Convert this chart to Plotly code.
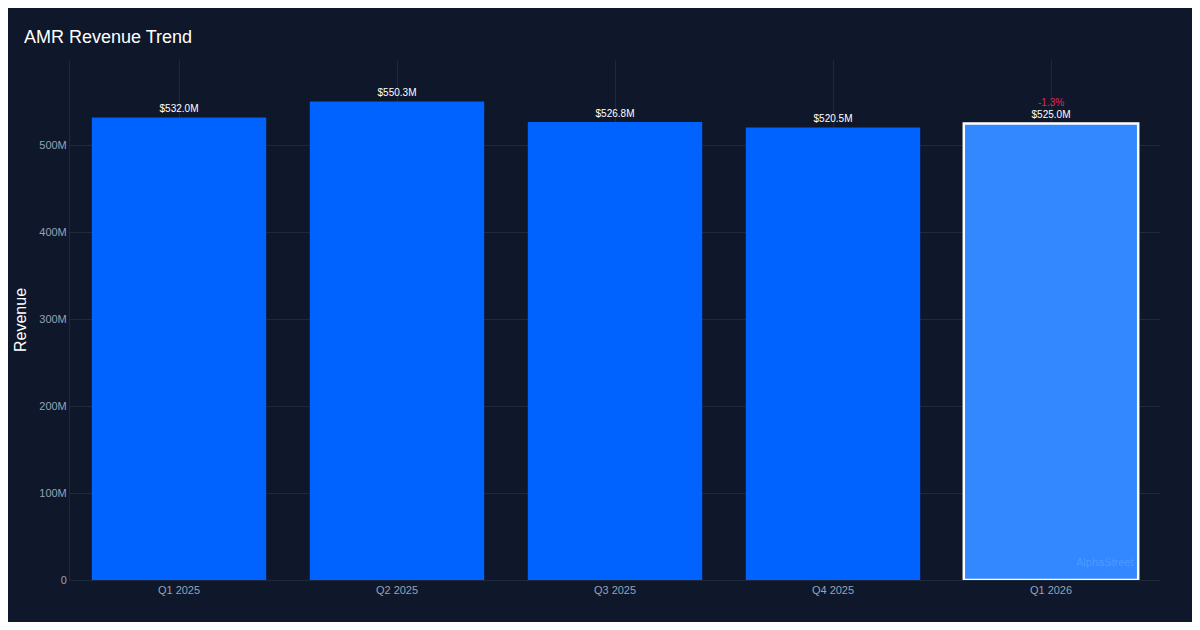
import plotly.graph_objects as go

quarters = ["Q1 2025", "Q2 2025", "Q3 2025", "Q4 2025", "Q1 2026"]
revenue = [532.0e6, 550.3e6, 526.8e6, 520.5e6, 525.0e6]
labels = ["$532.0M", "$550.3M", "$526.8M", "$520.5M", "$525.0M"]
change_label = "-1.3%"

colors = ["#0062ff"] * 4 + ["#3388ff"]
line_colors = ["rgba(0,0,0,0)"] * 4 + ["#ffffff"]
line_widths = [0, 0, 0, 0, 2.5]

fig = go.Figure(go.Bar(
    x=quarters, y=revenue, text=labels, textposition="outside",
    textfont=dict(color="#ffffff", size=10, family="Liberation Sans, Arial"),
    marker=dict(color=colors, line=dict(color=line_colors, width=line_widths)),
    width=0.8, cliponaxis=False,
))
fig.add_annotation(x=quarters[-1], y=revenue[-1], yshift=21, text=change_label,
                   showarrow=False, font=dict(color="#e0245e", size=10, family="Liberation Sans, Arial"))
fig.add_annotation(xref="paper", yref="paper", x=0.977, y=0.02, xanchor="right", yanchor="bottom",
                   text="AlphaStreet", showarrow=False,
                   font=dict(color="rgba(255,255,255,0.15)", size=11))
fig.update_layout(
    width=1184, height=614,
    paper_bgcolor="#0f172a", plot_bgcolor="#0f172a",
    margin=dict(l=60, r=32, t=52, b=42),
    title=dict(text="AMR Revenue Trend", x=0.0135, xanchor="left", y=0.963, font=dict(color="#ffffff", size=18, family="Liberation Sans, Arial")),
    font=dict(family="Liberation Sans, Arial", color="#94a3b8", size=11),
    showlegend=False, bargap=0.2,
)
fig.update_xaxes(showgrid=True, gridcolor="#1e293b", showline=True, linecolor="#1e293b", tickfont=dict(color="#94a3b8"))
fig.update_yaxes(title=dict(text="Revenue", font=dict(color="#ffffff", size=16), standoff=8), range=[0, 598e6],
                 tickvals=[0, 100e6, 200e6, 300e6, 400e6, 500e6],
                 ticktext=["0", "100M", "200M", "300M", "400M", "500M"],
                 gridcolor="#1e293b", zeroline=False, showline=True, linecolor="#1e293b")
fig.write_html("out.html")
